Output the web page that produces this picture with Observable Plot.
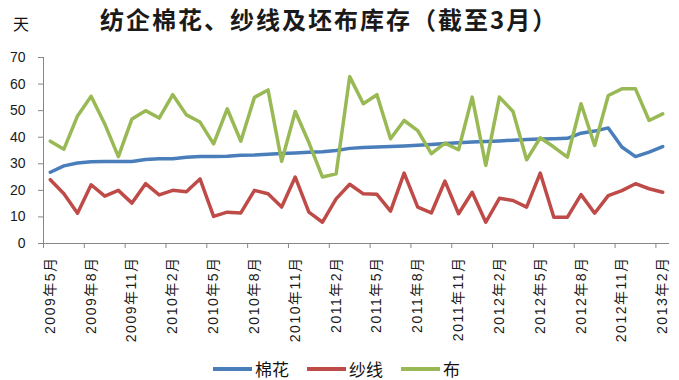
<!DOCTYPE html>
<html>
<head>
<meta charset="utf-8">
<script src="https://cdn.jsdelivr.net/npm/d3@7"></script>
<script src="https://cdn.jsdelivr.net/npm/@observablehq/plot@0.6"></script>
<style>
  body { margin: 0; background: #fff; }
  #wrap { position: relative; width: 679px; height: 380px; font-family: "Noto Sans CJK SC", sans-serif; color: #111; }
  #title { position: absolute; left: 100px; top: 5px; font-size: 24px; font-weight: bold; letter-spacing: 2px; line-height: 28px; white-space: nowrap; color: #1a1a1a; }
  #unit { position: absolute; left: 13px; top: 13px; font-size: 16px; line-height: 20px; }
  #legend { position: absolute; left: 213px; top: 359px; height: 20px; display: flex; align-items: center; gap: 18px; font-size: 17px; line-height: 20px; }
  #legend .item { display: flex; align-items: center; gap: 3px; }
  #legend .swatch { width: 39px; height: 4px; }
  #chart { position: absolute; left: 0; top: 0; }
  #chart svg [aria-label="x-axis tick label"] text { letter-spacing: 1.5px; }
</style>
</head>
<body>
<div id="wrap">
  <div id="chart"></div>
  <div id="title">纺企棉花、纱线及坯布库存（截至3月）</div>
  <div id="unit">天</div>
  <div id="legend"></div>
</div>
<script>
const months = [
  "2009年5月","2009年6月","2009年7月","2009年8月","2009年9月","2009年10月","2009年11月","2009年12月",
  "2010年1月","2010年2月","2010年3月","2010年4月","2010年5月","2010年6月","2010年7月","2010年8月","2010年9月","2010年10月","2010年11月","2010年12月",
  "2011年1月","2011年2月","2011年3月","2011年4月","2011年5月","2011年6月","2011年7月","2011年8月","2011年9月","2011年10月","2011年11月","2011年12月",
  "2012年1月","2012年2月","2012年3月","2012年4月","2012年5月","2012年6月","2012年7月","2012年8月","2012年9月","2012年10月","2012年11月","2012年12月",
  "2013年1月","2013年2月"
];
const cotton = [26.8,29.2,30.3,30.8,30.9,30.9,30.9,31.6,31.9,31.9,32.5,32.7,32.7,32.8,33.2,33.3,33.6,33.9,34.1,34.3,34.5,35.0,35.8,36.1,36.3,36.5,36.7,37.0,37.3,37.6,37.9,38.2,38.4,38.6,38.9,39.1,39.3,39.4,39.6,41.5,42.3,43.5,36.3,32.7,34.4,36.5];
const yarn = [24.0,18.7,11.4,22.1,17.8,20.0,15.2,22.5,18.3,20.0,19.5,24.3,10.2,11.8,11.5,20.0,18.7,13.7,25.0,11.8,8.0,16.8,22.3,18.7,18.5,12.2,26.5,13.7,11.5,23.5,11.2,19.3,8.0,17.0,16.2,13.7,26.5,9.9,9.9,18.4,11.4,18.0,19.9,22.5,20.6,19.3];
const cloth = [38.5,35.5,48.0,55.4,45.0,32.7,46.9,50.0,47.2,56.0,48.4,45.7,37.5,50.7,38.5,55.0,57.8,30.9,49.7,38.0,25.0,26.2,62.8,52.6,56.0,39.4,46.3,42.5,33.8,37.8,35.3,55.1,29.4,55.1,49.7,31.5,39.8,36.3,32.5,52.6,36.9,55.7,58.2,58.2,46.3,48.8];
const seriesNames = ["棉花", "纱线", "布"];
const seriesColors = ["#4a7ebb", "#be4b48", "#98b954"];
const yTicks = [0, 10, 20, 30, 40, 50, 60, 70];
const labelEvery = 3;

const seriesValues = [cotton, yarn, cloth];
const rows = seriesNames.flatMap((name, s) =>
  months.map((m, i) => ({i, month: m, value: seriesValues[s][i], series: name}))
);
const labelIdx = months.map((m, i) => i).filter(i => i % labelEvery === 0);
const boundaryTicks = d3.range(-0.5, months.length - 1, labelEvery);

const axisGray = "#878787";
const fontFam = "'Liberation Sans', 'Noto Sans CJK SC', sans-serif";

const chart = Plot.plot({
  width: 679,
  height: 380,
  marginTop: 57,
  marginBottom: 137,
  marginLeft: 43,
  marginRight: 10,
  style: {fontFamily: fontFam, fontSize: "14px", background: "transparent", color: "#1a1a1a"},
  x: {type: "linear", domain: [-0.5, months.length - 0.5], axis: null},
  y: {domain: [0, 70], axis: null},
  color: {domain: seriesNames, range: seriesColors},
  marks: [
    Plot.axisY({ticks: yTicks, tickSize: 5, tickPadding: 13, stroke: axisGray, fill: "#1a1a1a", label: null, tickFormat: d => d}),
    Plot.ruleX([-0.5], {stroke: axisGray, strokeWidth: 1}),
    Plot.ruleY([0], {stroke: axisGray, strokeWidth: 1}),
    Plot.axisX({ticks: boundaryTicks, tickSize: 5, stroke: axisGray, tickFormat: () => "", label: null}),
    Plot.axisX({ticks: labelIdx, tickSize: 0, tickPadding: 13, tickRotate: -90, tickFormat: i => months[i], fill: "#1a1a1a", label: null}),
    Plot.line(rows, {x: "i", y: "value", z: "series", stroke: "series", strokeWidth: 3.5, strokeLinejoin: "round", strokeLinecap: "round", curve: "linear"})
  ]
});
document.getElementById("chart").append(chart);

const legend = document.getElementById("legend");
seriesNames.forEach((name, s) => {
  const item = document.createElement("div");
  item.className = "item";
  const sw = document.createElement("span");
  sw.className = "swatch";
  sw.style.background = seriesColors[s];
  const tx = document.createElement("span");
  tx.textContent = name;
  item.append(sw, tx);
  legend.append(item);
});
</script>
</body>
</html>
